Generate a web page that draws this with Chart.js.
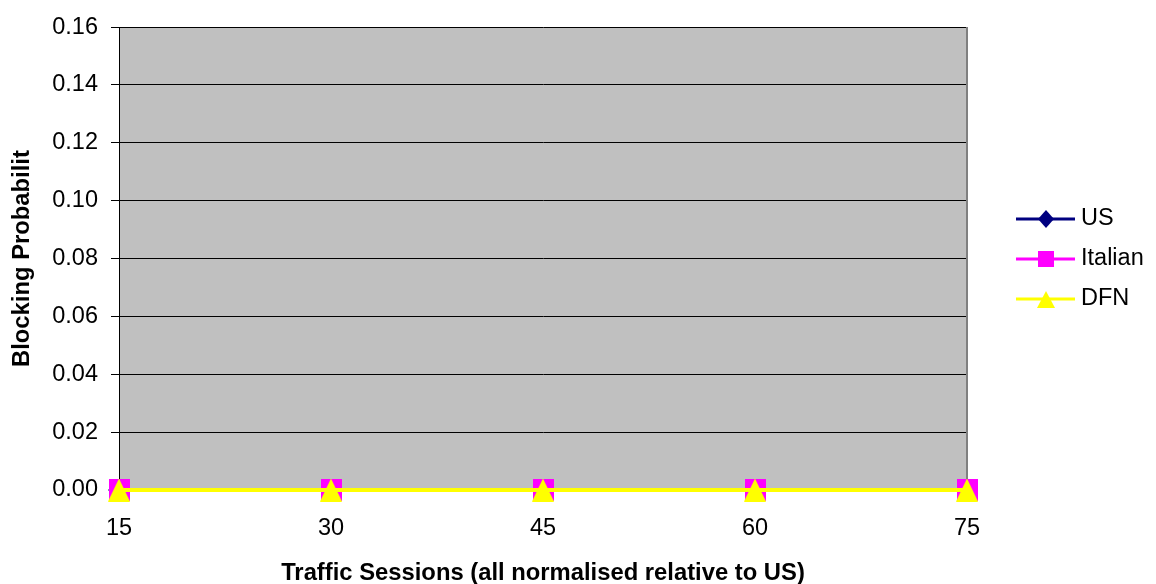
<!DOCTYPE html>
<html>
<head>
<meta charset="utf-8">
<script src="https://cdn.jsdelivr.net/npm/chart.js@4/dist/chart.umd.min.js"></script>
<style>
  html, body { margin: 0; padding: 0; background: #fff; }
  #wrap { width: 1156px; height: 584px; position: relative; }
</style>
</head>
<body>
<div id="wrap"><canvas id="c" width="1156" height="584"></canvas></div>
<script>
// Traffic sessions on the x axis
const categories = ['15', '30', '45', '60', '75'];

// Blocking probability per topology
const usValues = [0, 0, 0, 0, 0];
const italianValues = [0, 0, 0, 0, 0];
const dfnValues = [0, 0, 0, 0, 0];

// Y axis tick range
const yMin = 0;
const yMax = 0.16;
const yStep = 0.02;

const FONT = "Arial, 'Liberation Sans', sans-serif";
const FS = 23.5;
const TITLE_FS = 23.8;

// Marker bitmaps
function makeMarker(shape, color, w, h) {
  const cv = document.createElement('canvas');
  cv.width = w; cv.height = h;
  const g = cv.getContext('2d');
  g.fillStyle = color;
  g.beginPath();
  if (shape === 'diamond') {
    g.moveTo(w / 2, 0); g.lineTo(w, h / 2); g.lineTo(w / 2, h); g.lineTo(0, h / 2);
  } else if (shape === 'square') {
    g.rect(0, 0, w, h);
  } else {
    g.moveTo(w / 2, 0); g.lineTo(w, h); g.lineTo(0, h);
  }
  g.closePath();
  g.fill();
  return cv;
}

const markers = {
  US: { plot: makeMarker('diamond', '#000080', 22, 20), key: makeMarker('diamond', '#000080', 16, 18) },
  Italian: { plot: makeMarker('square', '#FF00FF', 21, 22), key: makeMarker('square', '#FF00FF', 16, 16) },
  DFN: { plot: makeMarker('triangle', '#FFFF00', 22, 23), key: makeMarker('triangle', '#FFFF00', 18, 17) }
};

const plotBackground = {
  id: 'plotBackground',
  beforeDraw(chart) {
    const { ctx, chartArea: a } = chart;
    ctx.save();
    ctx.fillStyle = '#C0C0C0';
    ctx.fillRect(a.left, a.top, a.right - a.left, a.bottom - a.top);
    ctx.restore();
  },
  beforeDatasetsDraw(chart) {
    const { ctx, chartArea: a } = chart;
    ctx.save();
    ctx.strokeStyle = '#808080';
    ctx.lineWidth = 2;
    ctx.beginPath();
    ctx.moveTo(a.right, a.top);
    ctx.lineTo(a.right, a.bottom);
    ctx.stroke();
    ctx.restore();
  }
};

const sideLegend = {
  id: 'sideLegend',
  afterDraw(chart) {
    const { ctx } = chart;
    const rows = [219, 259, 299];
    const x0 = 1016, x1 = 1075, tx = 1081;
    ctx.save();
    chart.data.datasets.forEach((ds, i) => {
      const y = rows[i];
      ctx.strokeStyle = ds.borderColor;
      ctx.lineWidth = 3;
      ctx.beginPath();
      ctx.moveTo(x0, y);
      ctx.lineTo(x1, y);
      ctx.stroke();
      const m = markers[ds.label].key;
      ctx.drawImage(m, Math.round((x0 + x1) / 2 - m.width / 2), Math.round(y - m.height / 2));
      ctx.fillStyle = '#000';
      ctx.font = FS + 'px ' + FONT;
      ctx.textAlign = 'left';
      ctx.textBaseline = 'middle';
      ctx.fillText(ds.label, tx, y);
    });
    ctx.restore();
  }
};

function series(label, values, color) {
  return {
    label,
    data: values,
    borderColor: color,
    backgroundColor: color,
    borderWidth: 4,
    pointStyle: markers[label].plot,
    pointRadius: 10,
    pointHoverRadius: 10,
    tension: 0,
    fill: false,
    clip: false
  };
}

new Chart(document.getElementById('c'), {
  type: 'line',
  data: {
    labels: categories,
    datasets: [
      series('US', usValues, '#000080'),
      series('Italian', italianValues, '#FF00FF'),
      series('DFN', dfnValues, '#FFFF00')
    ].map((d, i, arr) => Object.assign(d, { order: arr.length - i }))
  },
  options: {
    responsive: false,
    animation: false,
    events: [],
    layout: { padding: { left: 0, right: 189, top: 27, bottom: 0 } },
    plugins: {
      legend: { display: false },
      tooltip: { enabled: false }
    },
    scales: {
      x: {
        type: 'category',
        offset: false,
        grid: { display: false, drawTicks: false },
        border: { display: true, color: '#000', width: 1 },
        ticks: { color: '#000', font: { family: FONT, size: FS }, padding: 24, maxRotation: 0, autoSkip: false },
        title: {
          display: true,
          text: 'Traffic Sessions (all normalised relative to US)',
          color: '#000',
          font: { family: FONT, size: TITLE_FS, weight: 'bold', lineHeight: 0.75 },
          padding: { top: 0, bottom: 2 }
        },
        afterFit(s) { s.height = 94; }
      },
      y: {
        min: yMin,
        max: yMax,
        grid: { color: '#000', lineWidth: 1, tickLength: 8, drawTicks: true, tickColor: '#000' },
        border: { display: true, color: '#000', width: 1 },
        ticks: {
          stepSize: yStep,
          color: '#000',
          font: { family: FONT, size: FS },
          padding: 13,
          callback: v => Number(v).toFixed(2)
        },
        title: {
          display: true,
          text: 'Blocking Probabilit',
          color: '#000',
          font: { family: FONT, size: TITLE_FS, weight: 'bold' },
          padding: { top: 8, bottom: 0 }
        },
        afterFit(s) { s.width = 119; }
      }
    }
  },
  plugins: [plotBackground, sideLegend]
});
</script>
</body>
</html>
